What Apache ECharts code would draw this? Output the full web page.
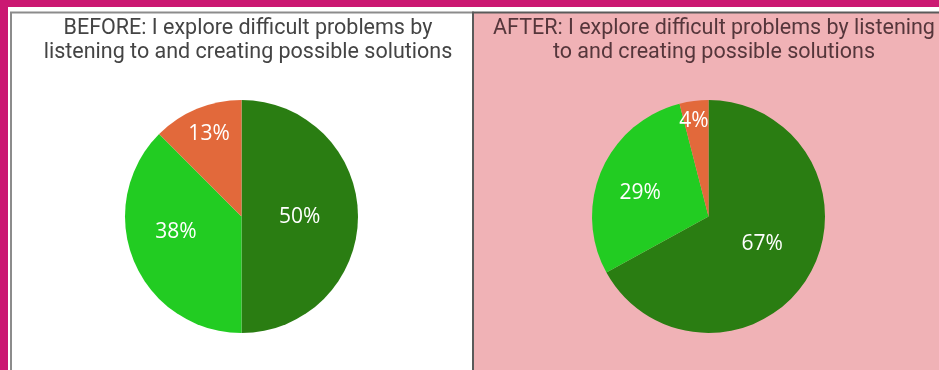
<!DOCTYPE html>
<html>
<head>
<meta charset="utf-8">
<script src="https://cdn.jsdelivr.net/npm/echarts@6/dist/echarts.min.js"></script>
<style>
  html, body { margin: 0; padding: 0; background: #cb1872; }
  #main { width: 939px; height: 370px; }
</style>
</head>
<body>
<div id="main"></div>
<script>
// answer categories (clockwise from 12 o'clock)
const categories = ['Yes', 'Sometimes', 'No']
const beforeValues = [50, 37.5, 12.5]
const afterValues = [67, 29, 4]
const titles = [
  'BEFORE: I explore difficult problems by\nlistening to and creating possible solutions',
  'AFTER: I explore difficult problems by listening\nto and creating possible solutions',
]

const colors = ['#2a7d12', '#22cc22', '#e2693b']
// label nudges (Excel "best fit" placement)
const beforeNudge = [[-3, 1], [-9, -8], [-9, -26]]
const afterNudge = [[1, -4], [-12, 1], [-7, -35]]

var myChart = echarts.init(document.getElementById('main'))

function makePie(center, values, nudge) {
  return {
    type: 'pie',
    center: center,
    radius: 116.5,
    startAngle: 90,
    clockwise: true,
    silent: true,
    data: values.map((v, i) => ({ name: categories[i], value: v })),
    itemStyle: { borderWidth: 0 },
    label: {
      show: true,
      position: 'inside',
      color: '#fff',
      fontSize: 21,
      fontFamily: 'Open Sans',
      formatter: (p) => Math.round(p.value) + '%',
    },
    labelLine: { show: false },
    labelLayout: function (params) {
      const n = nudge[params.dataIndex]
      return { dx: n[0], dy: n[1] }
    },
    emphasis: { disabled: true },
  }
}

const titleStyle = {
  fontFamily: 'Roboto',
  fontSize: 21.5,
  fontWeight: 'normal',
  lineHeight: 24,
}

var option = {
  animation: false,
  color: colors,
  graphic: [
    { type: 'rect', shape: { x: 8, y: 7, width: 931, height: 363 }, style: { fill: '#ffffff' }, z: 0 },
    {
      type: 'rect',
      shape: { x: 11, y: 12.5, width: 462, height: 370 },
      style: { fill: '#ffffff', stroke: '#8c8c8c', lineWidth: 2 },
      z: 1,
    },
    {
      type: 'rect',
      shape: { x: 473, y: 12.5, width: 480, height: 370 },
      style: { fill: '#f0b2b6', stroke: '#5a5a5a', lineWidth: 2 },
      z: 1,
    },
  ],
  title: [
    {
      text: titles[0],
      left: 243,
      top: 12,
      textAlign: 'center',
      textStyle: Object.assign({ color: '#444444' }, titleStyle),
    },
    {
      text: titles[1],
      left: 709,
      top: 12,
      textAlign: 'center',
      textStyle: Object.assign({ color: '#55363b' }, titleStyle),
    },
  ],
  series: [
    makePie([241.5, 216.5], beforeValues, beforeNudge),
    makePie([708.5, 216.5], afterValues, afterNudge),
  ],
}

option && myChart.setOption(option)
</script>
</body>
</html>
